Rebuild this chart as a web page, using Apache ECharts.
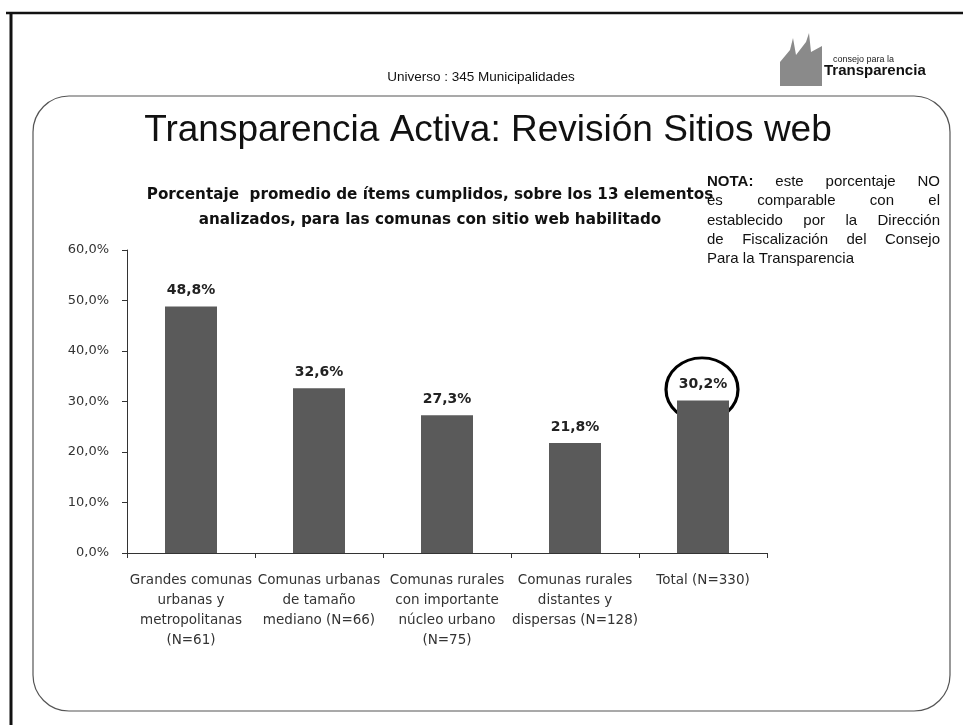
<!DOCTYPE html>
<html>
<head>
<meta charset="utf-8">
<script src="https://cdn.jsdelivr.net/npm/echarts@6/dist/echarts.min.js"></script>
<style>
  html, body { margin: 0; padding: 0; background: #fff; }
  #chart { width: 963px; height: 725px; }
</style>
</head>
<body>
<div id="chart"></div>
<script>
// datos
const categorias = [
  "Grandes comunas\nurbanas y\nmetropolitanas\n(N=61)",
  "Comunas urbanas\nde tamaño\nmediano (N=66)",
  "Comunas rurales\ncon importante\nnúcleo urbano\n(N=75)",
  "Comunas rurales\ndistantes y\ndispersas (N=128)",
  "Total (N=330)"
];
const porcentajes = [48.8, 32.6, 27.3, 21.8, 30.2];
const ejeY = { min: 0, max: 60, intervalo: 10 };

const notaLineas = [
  "NOTA: este porcentaje NO",
  "es comparable con el",
  "establecido por la Dirección",
  "de Fiscalización del Consejo",
  "Para la Transparencia"
];

const fmt = v => v.toFixed(1).replace(".", ",") + "%";
const FUENTE = "'DejaVu Sans'";

// texto justificado para la nota (como en la diapositiva)
const ctx = document.createElement("canvas").getContext("2d");
function anchoTexto(t, bold) {
  ctx.font = (bold ? "bold " : "") + "15px 'Liberation Sans'";
  return ctx.measureText(t).width;
}
function notaGraphic(x0, x1, y0, lh) {
  const els = [];
  notaLineas.forEach((linea, i) => {
    const y = y0 + i * lh;
    const ultima = i === notaLineas.length - 1;
    const palabras = linea.split(" ");
    const negrita = palabras.map(p => p === "NOTA:");
    const anchos = palabras.map((p, k) => anchoTexto(p, negrita[k]));
    const total = anchos.reduce((a, b) => a + b, 0);
    const hueco = ultima ? anchoTexto(" ") : (x1 - x0 - total) / (palabras.length - 1);
    let x = x0;
    palabras.forEach((p, k) => {
      els.push({
        type: "text", x: x, y: y,
        style: { text: p, font: (negrita[k] ? "bold " : "") + "15px 'Liberation Sans'", fill: "#111", verticalAlign: "middle" }
      });
      x += anchos[k] + hueco;
    });
  });
  return els;
}

const chart = echarts.init(document.getElementById("chart"));

const decoracion = [
  // marco exterior
  { type: "line", shape: { x1: 6, y1: 13, x2: 963, y2: 13 }, style: { stroke: "#111", lineWidth: 2.5 } },
  { type: "line", shape: { x1: 11, y1: 13, x2: 11, y2: 725 }, style: { stroke: "#111", lineWidth: 3 } },
  // recuadro redondeado
  { type: "rect", shape: { x: 33, y: 96, width: 917, height: 615, r: 36 },
    style: { fill: "none", stroke: "#555", lineWidth: 1.2 } },
  // logo
  { type: "polygon", shape: { points: [[780, 86], [780, 62], [790, 50], [793, 38], [796, 55], [806, 42], [809, 33], [811, 52], [822, 46], [822, 86]] },
    style: { fill: "#8a8a8a" } },
  { type: "text", x: 833, y: 60, style: { text: "consejo para la", font: "9px 'Liberation Sans Narrow', 'Liberation Sans'", fill: "#222", verticalAlign: "middle" } },
  { type: "text", x: 824, y: 71, style: { text: "Transparencia", font: "bold 15px 'Liberation Sans'", fill: "#111", verticalAlign: "middle" } },
  // textos de la diapositiva
  { type: "text", x: 481, y: 77, style: { text: "Universo : 345 Municipalidades", font: "13.5px 'Liberation Sans'", fill: "#111", align: "center", verticalAlign: "middle" } },
  { type: "text", x: 488, y: 131, style: { text: "Transparencia Activa: Revisión Sitios web", font: "37px 'Liberation Sans'", fill: "#111", align: "center", verticalAlign: "middle" } },
  // título del gráfico
  { type: "text", x: 430, y: 195, style: { text: "Porcentaje  promedio de ítems cumplidos, sobre los 13 elementos", font: "bold 15.2px " + FUENTE, fill: "#111", align: "center", verticalAlign: "middle" } },
  { type: "text", x: 430, y: 220, style: { text: "analizados, para las comunas con sitio web habilitado", font: "bold 15.2px " + FUENTE, fill: "#111", align: "center", verticalAlign: "middle" } }
].concat(notaGraphic(707, 940, 182, 19.2));

chart.setOption({
  animation: false,
  backgroundColor: "#fff",
  grid: { left: 127, right: 196, top: 250, bottom: 172 },
  xAxis: {
    type: "category",
    data: categorias,
    axisLine: { lineStyle: { color: "#333", width: 1 } },
    axisTick: { show: true, length: 5, lineStyle: { color: "#333" } },
    axisLabel: { interval: 0, margin: 17, fontFamily: FUENTE, fontSize: 13.5, lineHeight: 20, color: "#333" }
  },
  yAxis: {
    type: "value",
    min: ejeY.min, max: ejeY.max, interval: ejeY.intervalo,
    axisLine: { show: true, lineStyle: { color: "#333", width: 1 } },
    axisTick: { show: true, length: 5, lineStyle: { color: "#333" } },
    splitLine: { show: false },
    axisLabel: { margin: 18, fontFamily: FUENTE, fontSize: 13, color: "#333", formatter: fmt }
  },
  series: [{
    type: "bar",
    data: porcentajes,
    barWidth: 52,
    itemStyle: { color: "#5a5a5a" },
    label: {
      show: true, position: "top", distance: 9,
      fontFamily: FUENTE, fontWeight: "bold", fontSize: 14, color: "#222",
      formatter: p => fmt(p.value)
    }
  }],
  graphic: decoracion
});

// círculo que resalta el total
const ultimo = porcentajes.length - 1;
const pt = chart.convertToPixel({ seriesIndex: 0 }, [ultimo, porcentajes[ultimo]]);
chart.setOption({
  graphic: decoracion.concat([{
    type: "circle", x: pt[0] - 1, y: pt[1] - 11, scaleY: 0.88,
    shape: { cx: 0, cy: 0, r: 36 },
    style: { fill: "none", stroke: "#000", lineWidth: 3.2 }
  }])
});
</script>
</body>
</html>
